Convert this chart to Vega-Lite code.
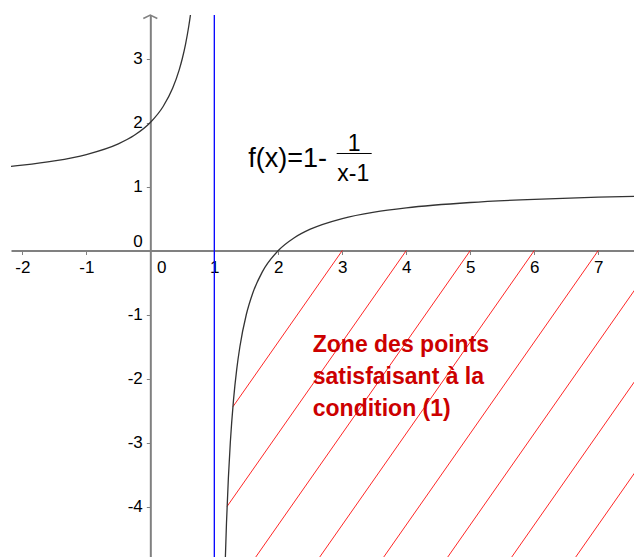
{
  "$schema": "https://vega.github.io/schema/vega-lite/v6.json",
  "width": 623,
  "height": 542,
  "autosize": {"type": "none"},
  "padding": {"left": 11, "top": 15, "right": 0, "bottom": 0},
  "background": "white",
  "config": {
    "view": {"stroke": null},
    "axis": {
      "grid": false,
      "title": null,
      "domainColor": "#808080",
      "domainWidth": 2,
      "tickColor": "#808080",
      "tickWidth": 1,
      "tickSize": 4,
      "labelColor": "#000000",
      "labelFont": "Liberation Sans",
      "labelFontSize": 17,
      "labelOverlap": false,
      "labelFlush": false,
      "labelBound": false,
      "labelExpr": "'' + datum.value"
    }
  },
  "layer": [
    {
      "data": {"values": [
        {"id": 3, "x": 3, "y": 0}, {"id": 3, "x": 1.291, "y": -2.441},
        {"id": 4, "x": 4, "y": 0}, {"id": 4, "x": 1.2, "y": -3.998},
        {"id": 5, "x": 5, "y": 0}, {"id": 5, "x": 1.5, "y": -5},
        {"id": 6, "x": 6, "y": 0}, {"id": 6, "x": 2.5, "y": -5},
        {"id": 7, "x": 7, "y": 0}, {"id": 7, "x": 3.5, "y": -5},
        {"id": 8, "x": 8, "y": 0}, {"id": 8, "x": 4.5, "y": -5},
        {"id": 9, "x": 9, "y": 0}, {"id": 9, "x": 5.5, "y": -5},
        {"id": 10, "x": 10, "y": 0}, {"id": 10, "x": 6.5, "y": -5}
      ]},
      "mark": {"type": "line", "color": "#ff0000", "strokeWidth": 1, "opacity": 0.85, "clip": true},
      "encoding": {
        "x": {
          "field": "x", "type": "quantitative",
          "scale": {"domain": [-2.177, 7.558], "nice": false, "zero": false},
          "axis": {
            "orient": "bottom",
            "offset": {"expr": "scale('y', 0) - height"},
            "values": [-2, -1, 0, 1, 2, 3, 4, 5, 6, 7],
            "labelPadding": 5,
            "labelOffset": {"condition": {"test": "datum.value === 0", "value": 11}, "value": 0}
          }
        },
        "y": {
          "field": "y", "type": "quantitative",
          "scale": {"domain": [-4.789, 3.68], "nice": false, "zero": false},
          "axis": {
            "orient": "left",
            "offset": {"expr": "-scale('x', 0)"},
            "values": [-4, -3, -2, -1, 0, 1, 2, 3],
            "labelPadding": 4,
            "labelOffset": {"condition": {"test": "datum.value === 0", "value": -9}, "value": 0}
          }
        },
        "detail": {"field": "id"},
        "order": {"field": "y", "sort": "descending"}
      }
    },
    {
      "data": {"values": [
        {"branch": "L", "x": -2.3, "y": 1.303},
        {"branch": "L", "x": -2, "y": 1.3333},
        {"branch": "L", "x": -1.5, "y": 1.4},
        {"branch": "L", "x": -1, "y": 1.5},
        {"branch": "L", "x": -0.5, "y": 1.6667},
        {"branch": "L", "x": -0.25, "y": 1.8},
        {"branch": "L", "x": 0, "y": 2},
        {"branch": "L", "x": 0.2, "y": 2.25},
        {"branch": "L", "x": 0.35, "y": 2.5385},
        {"branch": "L", "x": 0.45, "y": 2.8182},
        {"branch": "L", "x": 0.5, "y": 3},
        {"branch": "L", "x": 0.55, "y": 3.2222},
        {"branch": "L", "x": 0.6, "y": 3.5},
        {"branch": "L", "x": 0.63, "y": 3.7027},
        {"branch": "L", "x": 0.66, "y": 3.9412},
        {"branch": "L", "x": 0.7, "y": 4.3333},
        {"branch": "R", "x": 1.15, "y": -5.6667},
        {"branch": "R", "x": 1.17, "y": -4.8824},
        {"branch": "R", "x": 1.19, "y": -4.2632},
        {"branch": "R", "x": 1.22, "y": -3.5455},
        {"branch": "R", "x": 1.25, "y": -3},
        {"branch": "R", "x": 1.3, "y": -2.3333},
        {"branch": "R", "x": 1.35, "y": -1.8571},
        {"branch": "R", "x": 1.4, "y": -1.5},
        {"branch": "R", "x": 1.5, "y": -1},
        {"branch": "R", "x": 1.6, "y": -0.6667},
        {"branch": "R", "x": 1.75, "y": -0.3333},
        {"branch": "R", "x": 2, "y": 0},
        {"branch": "R", "x": 2.25, "y": 0.2},
        {"branch": "R", "x": 2.5, "y": 0.3333},
        {"branch": "R", "x": 3, "y": 0.5},
        {"branch": "R", "x": 3.5, "y": 0.6},
        {"branch": "R", "x": 4, "y": 0.6667},
        {"branch": "R", "x": 5, "y": 0.75},
        {"branch": "R", "x": 6, "y": 0.8},
        {"branch": "R", "x": 7, "y": 0.8333},
        {"branch": "R", "x": 7.7, "y": 0.8507}
      ]},
      "mark": {"type": "line", "color": "#333333", "strokeWidth": 1.3, "interpolate": "monotone", "clip": true},
      "encoding": {
        "x": {"field": "x", "type": "quantitative"},
        "y": {"field": "y", "type": "quantitative"},
        "detail": {"field": "branch"}
      }
    },
    {
      "data": {"values": [{"x": 1}]},
      "mark": {"type": "rule", "color": "#0000ff", "strokeWidth": 1.3},
      "encoding": {"x": {"field": "x", "type": "quantitative"}}
    },
    {
      "data": {"values": [{"x": 0, "y": 3.68}]},
      "mark": {"type": "point", "shape": "M-1,0.5L0,0L1,0.5", "size": 196, "filled": false, "stroke": "#808080", "strokeWidth": 1.5, "opacity": 1},
      "encoding": {
        "x": {"field": "x", "type": "quantitative"},
        "y": {"field": "y", "type": "quantitative"}
      }
    },
    {
      "data": {"values": [{"x": 2.912, "x2": 3.459, "y": 1.516}]},
      "mark": {"type": "rule", "color": "#000000", "strokeWidth": 1},
      "encoding": {
        "x": {"field": "x", "type": "quantitative"},
        "x2": {"field": "x2"},
        "y": {"field": "y", "type": "quantitative"}
      }
    },
    {
      "data": {"values": [{"x": 1.531, "y": 1.309, "label": "f(x)=1-"}]},
      "mark": {"type": "text", "align": "left", "baseline": "alphabetic", "font": "Liberation Sans", "fontSize": 27, "color": "#000000"},
      "encoding": {
        "x": {"field": "x", "type": "quantitative"},
        "y": {"field": "y", "type": "quantitative"},
        "text": {"field": "label"}
      }
    },
    {
      "data": {"values": [
        {"x": 3.186, "y": 1.56, "label": "1"},
        {"x": 3.17, "y": 1.086, "label": "x-1"}
      ]},
      "mark": {"type": "text", "align": "center", "baseline": "alphabetic", "font": "Liberation Sans", "fontSize": 23, "color": "#000000"},
      "encoding": {
        "x": {"field": "x", "type": "quantitative"},
        "y": {"field": "y", "type": "quantitative"},
        "text": {"field": "label"}
      }
    },
    {
      "data": {"values": [{"x": 2.538, "y": -1.59, "label": ["Zone des points", "satisfaisant à la", "condition (1)"]}]},
      "mark": {"type": "text", "align": "left", "baseline": "alphabetic", "font": "Liberation Sans", "fontWeight": "bold", "fontSize": 23, "lineHeight": 32, "color": "#cc0000"},
      "encoding": {
        "x": {"field": "x", "type": "quantitative"},
        "y": {"field": "y", "type": "quantitative"},
        "text": {"field": "label"}
      }
    }
  ]
}
